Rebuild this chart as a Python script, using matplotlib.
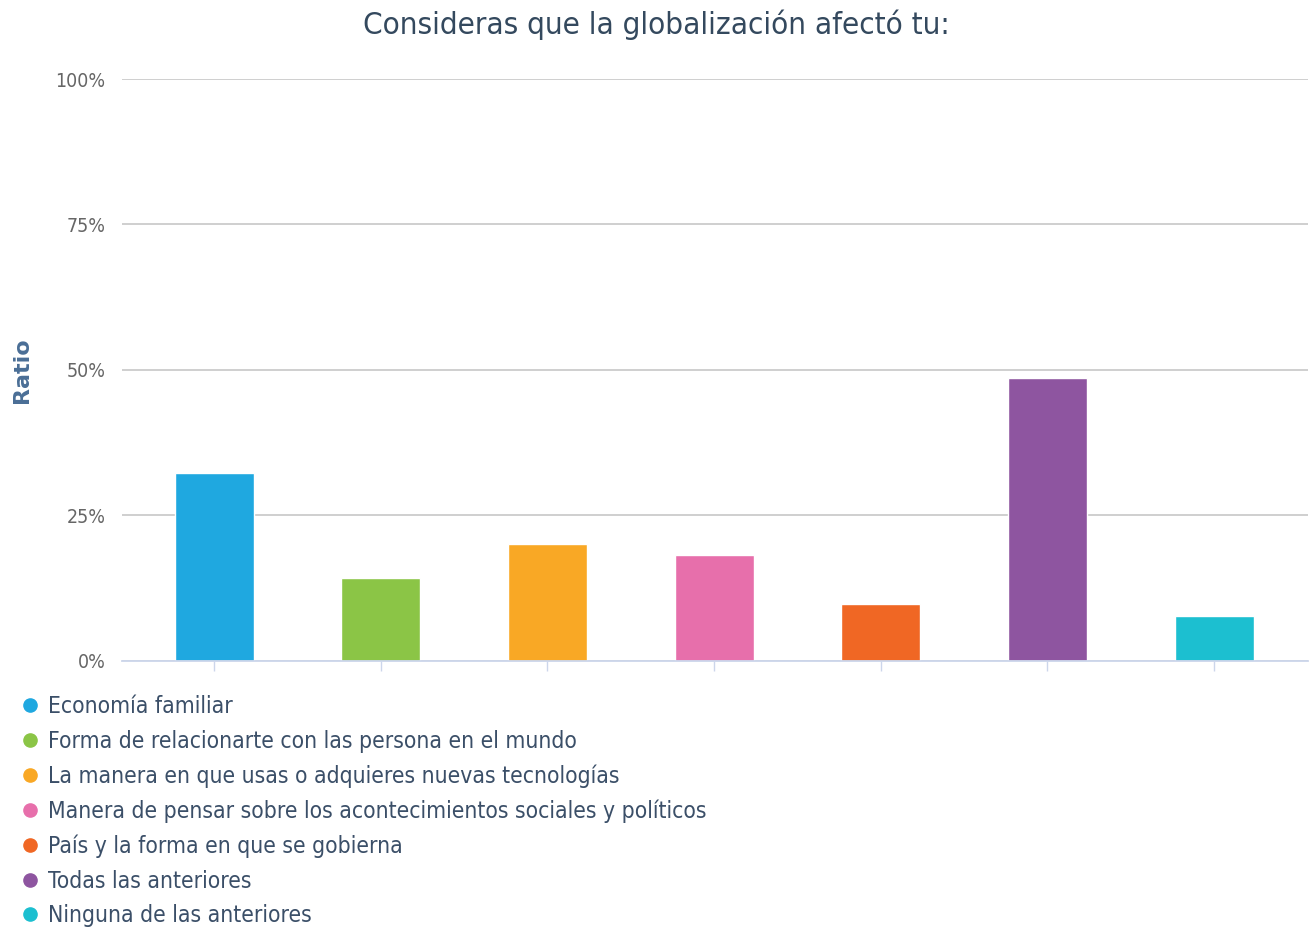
import matplotlib
matplotlib.use("Agg")
import matplotlib.pyplot as plt
from matplotlib.lines import Line2D
from matplotlib.ticker import FuncFormatter

categories = [
    "Economía familiar",
    "Forma de relacionarte con las persona en el mundo",
    "La manera en que usas o adquieres nuevas tecnologías",
    "Manera de pensar sobre los acontecimientos sociales y políticos",
    "País y la forma en que se gobierna",
    "Todas las anteriores",
    "Ninguna de las anteriores",
]
values = [32.2, 14.2, 20.1, 18.1, 9.7, 48.6, 7.7]
colors = ["#1fa8e0", "#8bc546", "#f9a825", "#e76fab", "#f06724", "#8e55a0", "#1cbfd0"]
yticks = [0, 25, 50, 75, 100]

title_color = "#34495e"
text_color = "#3b4f68"

plt.rcParams["font.family"] = ["DejaVu Sans"]

fig = plt.figure(figsize=(13.11, 9.30), dpi=100)
ax = fig.add_axes([122 / 1311, 1 - 660.7 / 930, (1308 - 122) / 1311, (660.7 - 79) / 930])

x = list(range(len(categories)))
ax.bar(x, values, width=0.474, color=colors, edgecolor="white", linewidth=1, zorder=3)

ax.set_ylim(0, 100)
ax.set_xlim(-0.552, 6.564)
ax.set_yticks(yticks)
ax.yaxis.set_major_formatter(FuncFormatter(lambda v, p: f"{int(v)}%"))
ax.tick_params(axis="y", length=0, pad=12, labelsize=14, labelcolor="#666666")
for t in ax.get_yticklabels():
    t.set_fontstretch("condensed")
ax.set_xticks(x)
ax.set_xticklabels([])
ax.tick_params(axis="x", length=7, width=1, color="#ccd6eb", direction="out")
ax.grid(axis="y", color="#cccccc", linewidth=1.3, zorder=0)
for s in ["top", "right", "left"]:
    ax.spines[s].set_visible(False)
ax.spines["bottom"].set_color("#ccd6eb")
ax.spines["bottom"].set_linewidth(1.3)
ax.spines["bottom"].set_zorder(4)

ax.set_ylabel("Ratio", fontsize=16, fontweight="bold", color="#4a6e96", labelpad=17)

fig.text(656 / 1311, 1 - 25 / 930, "Consideras que la globalización afectó tu:",
         ha="center", va="center", fontsize=22.5, color=title_color,
         fontstretch="condensed")

handles = [Line2D([0], [0], marker="o", linestyle="none", markersize=9.5,
                  markerfacecolor=c, markeredgecolor=c) for c in colors]
leg = fig.legend(handles, categories, loc="upper left",
                 bbox_to_anchor=(18 / 1311, 1 - 695 / 930),
                 frameon=False, prop={"size": 16.4, "stretch": "condensed"},
                 labelspacing=0.51, handletextpad=0.27, handlelength=1.06,
                 borderpad=0, borderaxespad=0)
for t in leg.get_texts():
    t.set_color(text_color)

fig.savefig("out.png", dpi=100)
